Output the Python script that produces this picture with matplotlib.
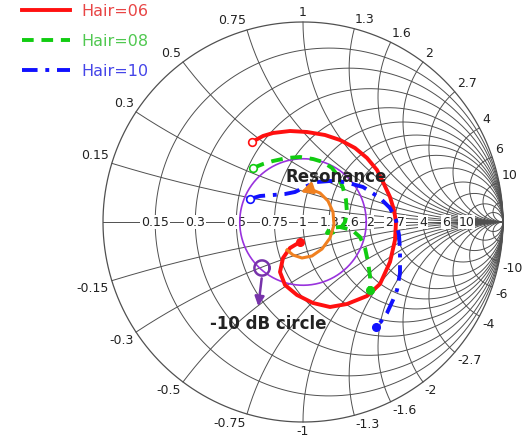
import numpy as np
import matplotlib.pyplot as plt

# smith chart grid values
grid_vals = [0.15, 0.3, 0.5, 0.75, 1, 1.3, 1.6, 2, 2.7, 4, 6, 10]
grid_labels = ['0.15', '0.3', '0.5', '0.75', '1', '1.3', '1.6', '2', '2.7', '4', '6', '10']
extra_vals = [20]

red_re = [-0.255, -0.200, -0.150, -0.065, 0.020, 0.110, 0.185, 0.260, 0.320, 0.370, 0.400,
          0.435, 0.455, 0.465, 0.460, 0.435, 0.385, 0.320, 0.220, 0.135, 0.050, -0.030,
          -0.090, -0.115, -0.100, -0.065, -0.015]
red_im = [0.400, 0.430, 0.445, 0.455, 0.450, 0.435, 0.410, 0.370, 0.320, 0.260, 0.200,
          0.125, 0.060, 0.000, -0.090, -0.200, -0.310, -0.370, -0.410, -0.425, -0.405, -0.365,
          -0.315, -0.250, -0.180, -0.130, -0.100]

green_re = [-0.250, -0.200, -0.150, -0.080, -0.015, 0.050, 0.100, 0.145, 0.175, 0.200, 0.215,
            0.220, 0.210, 0.185, 0.145, 0.120, 0.135, 0.185, 0.245, 0.285, 0.310, 0.325,
            0.335, 0.335]
green_im = [0.270, 0.290, 0.305, 0.320, 0.325, 0.315, 0.300, 0.270, 0.230, 0.170, 0.110,
            0.045, 0.000, -0.035, -0.055, -0.055, -0.030, -0.025, -0.040, -0.075, -0.130, -0.200,
            -0.270, -0.340]

blue_re = [-0.265, -0.215, -0.150, -0.090, -0.040, 0.020, 0.070, 0.135, 0.210, 0.300, 0.385,
           0.435, 0.465, 0.480, 0.485, 0.485, 0.470, 0.450, 0.420, 0.385, 0.365]
blue_im = [0.115, 0.130, 0.135, 0.140, 0.150, 0.180, 0.200, 0.205, 0.200, 0.175, 0.120,
           0.070, 0.010, -0.065, -0.140, -0.255, -0.340, -0.390, -0.455, -0.505, -0.525]

orange_re = [-0.080, -0.050, -0.005, 0.045, 0.095, 0.135, 0.155, 0.150, 0.125, 0.085, 0.035, -0.025]
orange_im = [-0.140, -0.165, -0.180, -0.170, -0.135, -0.080, -0.015, 0.050, 0.105, 0.145, 0.165, 0.145]

db_level = -10

fig = plt.figure(figsize=(5.3, 4.45), dpi=100)
ax = fig.add_axes([0, 0, 1, 1])
ax.set_xlim(-1.515, 1.135)
ax.set_ylim(-1.115, 1.11)
ax.set_aspect('equal')
ax.axis('off')

gc = '#505050'
t = np.linspace(0, 2 * np.pi, 400)
rr = np.concatenate([np.linspace(0, 5, 400), np.logspace(0.7, 4, 300)])

# resistance circles
for r in grid_vals + extra_vals:
    c = r / (1 + r)
    rad = 1 / (1 + r)
    ax.plot(c + rad * np.cos(t), rad * np.sin(t), color=gc, lw=0.7, zorder=1)
# reactance arcs
for x in grid_vals + extra_vals:
    for s in (1, -1):
        z = rr + 1j * s * x
        g = (z - 1) / (z + 1)
        ax.plot(g.real, g.imag, color=gc, lw=0.7, zorder=1)
ax.plot(np.cos(t), np.sin(t), color=gc, lw=0.9, zorder=1)
ax.plot([-1, 1], [0, 0], color=gc, lw=0.7, zorder=1)

# labels on real axis
for r, lab in zip(grid_vals, grid_labels):
    ax.text((r - 1) / (r + 1), 0, lab, fontsize=9, ha='center', va='center', color='#222222',
            bbox=dict(facecolor='white', edgecolor='none', pad=0.6), zorder=2)

# labels around the rim
for x, lab in zip(grid_vals, grid_labels):
    for s in (1, -1):
        g = (1j * s * x - 1) / (1j * s * x + 1)
        ang = np.angle(g)
        px, py = 1.015 * np.cos(ang), 1.015 * np.sin(ang)
        if abs(np.cos(ang)) < 0.05:
            ha = 'center'
        elif np.cos(ang) < 0:
            ha = 'right'
        else:
            ha = 'left'
        va = 'bottom' if s > 0 else 'top'
        ax.text(px, py, lab if s > 0 else '-' + lab, fontsize=9, ha=ha, va=va, color='#222222')

# -10 dB circle
rad_db = 10 ** (db_level / 20)
ax.plot(rad_db * np.cos(t), rad_db * np.sin(t), color='#9933dd', lw=1.2, zorder=3)

# traces
ax.plot(red_re, red_im, color='#ff1010', lw=2.8, label='Hair=06', zorder=4)
ax.plot(green_re, green_im, color='#11cc11', lw=2.8, ls=(0, (3, 2)), label='Hair=08', zorder=4)
ax.plot(blue_re, blue_im, color='#1111ff', lw=2.8, ls=(0, (4, 2, 1, 2)), label='Hair=10', zorder=4)
for xs, ys, col in [(red_re, red_im, '#ff1010'), (green_re, green_im, '#11cc11'),
                    (blue_re, blue_im, '#1111ff')]:
    ax.plot(xs[0], ys[0], 'o', mfc='white', mec=col, ms=5.5, mew=1.2, zorder=5)
    ax.plot(xs[-1], ys[-1], 'o', color=col, ms=5.5, zorder=5)

# resonance arrow
ax.plot(orange_re[:-1], orange_im[:-1], color='#f08020', lw=2.2, zorder=4)
ax.annotate('', xy=(orange_re[-1], orange_im[-1]), xytext=(orange_re[-2], orange_im[-2]),
            arrowprops=dict(arrowstyle='-|>', color='#f08020', lw=2.2, mutation_scale=17), zorder=4)
ax.text(0.165, 0.225, 'Resonance', fontsize=12, fontweight='bold', ha='center', va='center',
        color='#222222', zorder=6)

# -10 dB marker
ax.plot(-0.205 + 0.038 * np.cos(t), -0.230 + 0.038 * np.sin(t), color='#7733aa', lw=1.8, zorder=5)
ax.annotate('', xy=(-0.225, -0.435), xytext=(-0.205, -0.268),
            arrowprops=dict(arrowstyle='-|>', color='#7733aa', lw=1.8, mutation_scale=14), zorder=5)
ax.text(-0.175, -0.51, '-10 dB circle', fontsize=12, fontweight='bold', ha='center', va='center',
        color='#222222', zorder=6)

leg = ax.legend(loc='upper left', bbox_to_anchor=(0.015, 1.024), frameon=False, fontsize=11.5,
                handlelength=3.0, labelspacing=0.95, handletextpad=0.7)
for txt, col in zip(leg.get_texts(), ['#e84545', '#50c850', '#4545e8']):
    txt.set_color(col)

fig.savefig('out.png', dpi=100)
